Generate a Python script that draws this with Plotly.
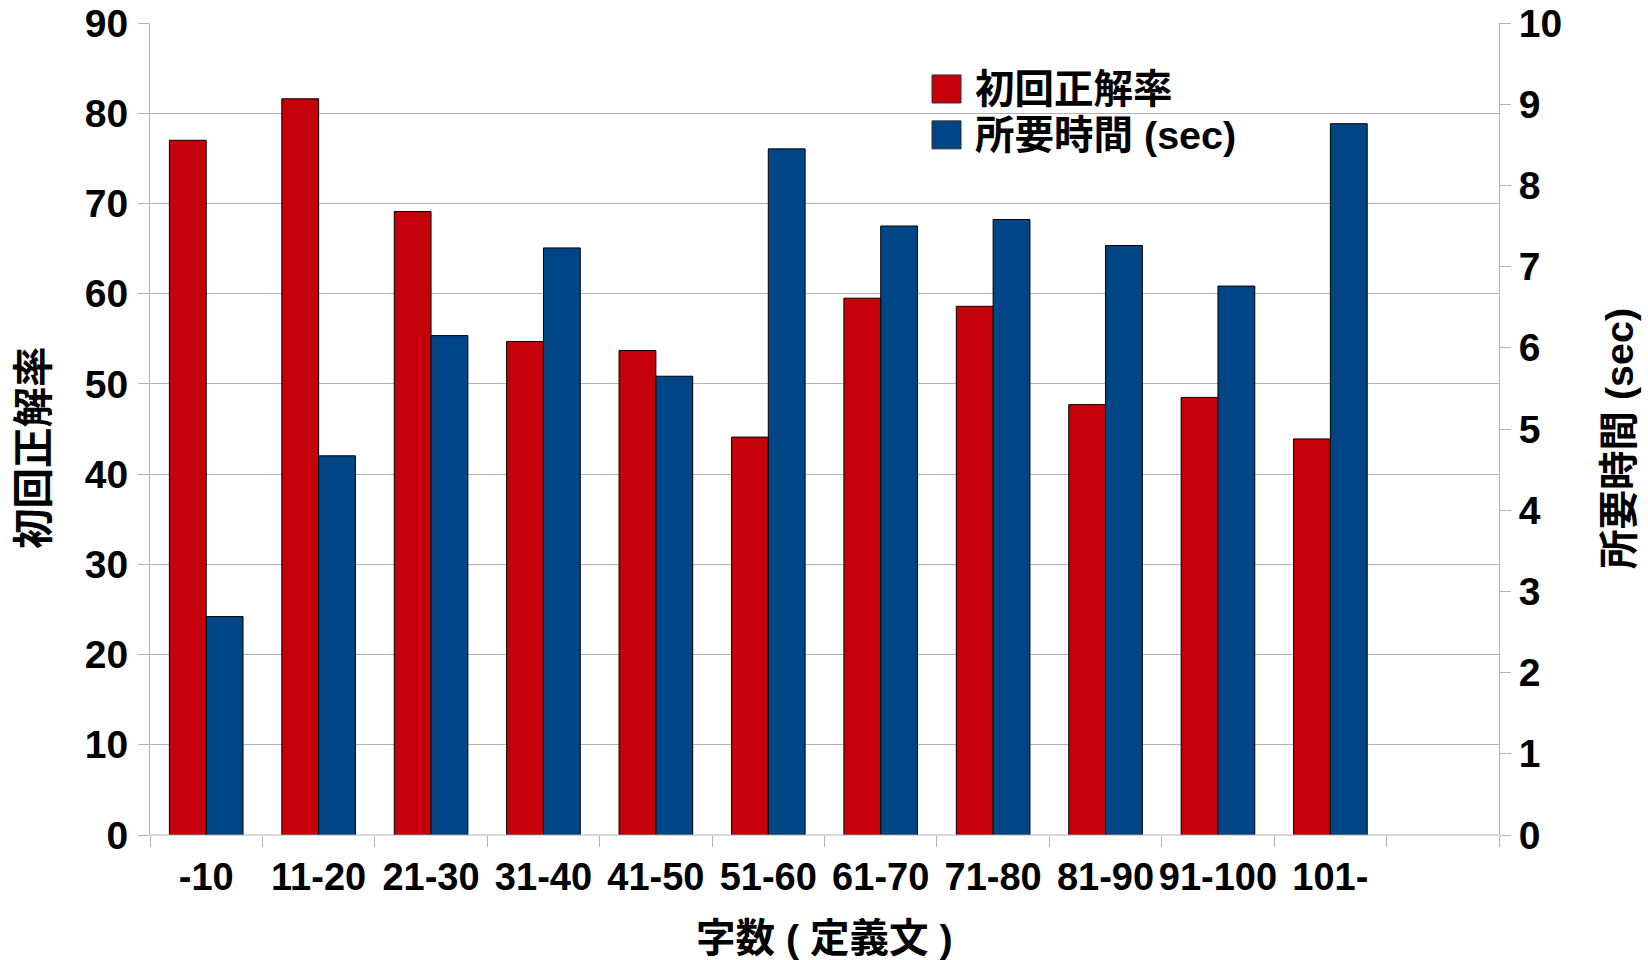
import numpy as np
import plotly.graph_objects as go

# Character-count bins of the definition text
categories = ["-10", "11-20", "21-30", "31-40", "41-50", "51-60",
              "61-70", "71-80", "81-90", "91-100", "101-"]
# First-attempt accuracy (%)
accuracy = [77.0, 81.6, 69.1, 54.7, 53.7, 44.1, 59.5, 58.6, 47.7, 48.5, 43.9]
# Time required (seconds)
time_sec = [2.69, 4.67, 6.15, 7.23, 5.65, 8.45, 7.50, 7.58, 7.26, 6.76, 8.76]

acc_name = "初回正解率"
time_name = "所要時間 (sec)"
x_title = "字数 ( 定義文 )"

RED = "#c5000b"
BLUE = "#004586"
GRID = "#b3b3b3"
FONT = "Liberation Sans, Arial, Noto Sans CJK JP, sans-serif"

x = np.arange(len(categories))
n_slots = len(categories) + 1  # one empty slot on the right

fig = go.Figure()
fig.add_trace(go.Bar(
    x=x, y=accuracy, name=acc_name, yaxis="y", offsetgroup="a",
    marker=dict(color=RED, line=dict(color="#000000", width=1)),
    showlegend=False,
))
fig.add_trace(go.Bar(
    x=x, y=time_sec, name=time_name, yaxis="y2", offsetgroup="b",
    marker=dict(color=BLUE, line=dict(color="#000000", width=1)),
    showlegend=False,
))

tickfont = dict(family=FONT, size=39, color="#000000", weight="bold")
xtickfont = dict(family=FONT, size=38, color="#000000", weight="bold")

fig.update_layout(
    width=1648, height=960,
    margin=dict(l=150, r=149, t=23, b=125, pad=0, autoexpand=False),
    paper_bgcolor="white", plot_bgcolor="white",
    barmode="group", bargap=0.345, bargroupgap=0,
    font=dict(family=FONT, color="#000000", size=36, weight="bold"),
    xaxis=dict(
        range=[-0.5, n_slots - 0.5],
        tickmode="array", tickvals=x, ticktext=categories,
        tickangle=0,
        ticks="", showgrid=False, zeroline=False,
        showline=False, automargin=False,
        tickfont=xtickfont,
        ticklabelstandoff=16,
        minor=dict(tickmode="linear", tick0=-0.5, dtick=1,
                   ticks="outside", ticklen=11, tickcolor=GRID,
                   tickwidth=1, showgrid=False),
    ),
    yaxis=dict(
        range=[0, 90], dtick=10, tick0=0,
        showgrid=True, gridcolor=GRID, gridwidth=1,
        zeroline=False, showline=True, linecolor=GRID, linewidth=1,
        ticks="outside", ticklen=11, tickcolor=GRID, tickwidth=1,
        tickfont=tickfont, automargin=False,
        ticklabelstandoff=2,
    ),
    yaxis2=dict(
        range=[0, 10], dtick=1, tick0=0,
        overlaying="y", side="right",
        showgrid=False, zeroline=False,
        showline=True, linecolor=GRID, linewidth=1,
        ticks="outside", ticklen=11, tickcolor=GRID, tickwidth=1,
        tickfont=tickfont, automargin=False,
        ticklabelstandoff=0,
    ),
    showlegend=False,
)

# Baseline along the bottom of the plot
fig.add_shape(type="line", xref="paper", yref="paper",
              x0=0, x1=1, y0=0, y1=0, line=dict(color=GRID, width=1))

title_font = dict(family=FONT, size=39.5, color="#000000", weight="bold")
ytitle_font = dict(family=FONT, size=40.5, color="#000000", weight="bold")

# Axis titles
fig.add_annotation(text=acc_name, xref="paper", yref="paper",
                   x=0, y=0.4765, xshift=-116, textangle=-90,
                   showarrow=False, xanchor="center", yanchor="middle",
                   font=ytitle_font)
fig.add_annotation(text=time_name, xref="paper", yref="paper",
                   x=1, y=0.4876, xshift=120, textangle=-90,
                   showarrow=False, xanchor="center", yanchor="middle",
                   font=title_font)
fig.add_annotation(text=x_title, xref="paper", yref="paper",
                   x=0.5, y=0, yshift=-103,
                   showarrow=False, xanchor="center", yanchor="middle",
                   font=title_font)

# Legend drawn with large swatches
legend_items = [(acc_name, RED, 0.9360, 0.9015, 0.9185),
                (time_name, BLUE, 0.8795, 0.8450, 0.8625)]
for label, color, y_top, y_bot, y_mid in legend_items:
    fig.add_shape(type="rect", xref="paper", yref="paper",
                  x0=0.5797, x1=0.6012, y0=y_bot, y1=y_top,
                  fillcolor=color, line=dict(color="#333333", width=1))
    fig.add_annotation(text=label, xref="paper", yref="paper",
                       x=0.6012, y=y_mid, xshift=12,
                       showarrow=False, xanchor="left", yanchor="middle",
                       font=title_font)

fig.write_html("out.html")
